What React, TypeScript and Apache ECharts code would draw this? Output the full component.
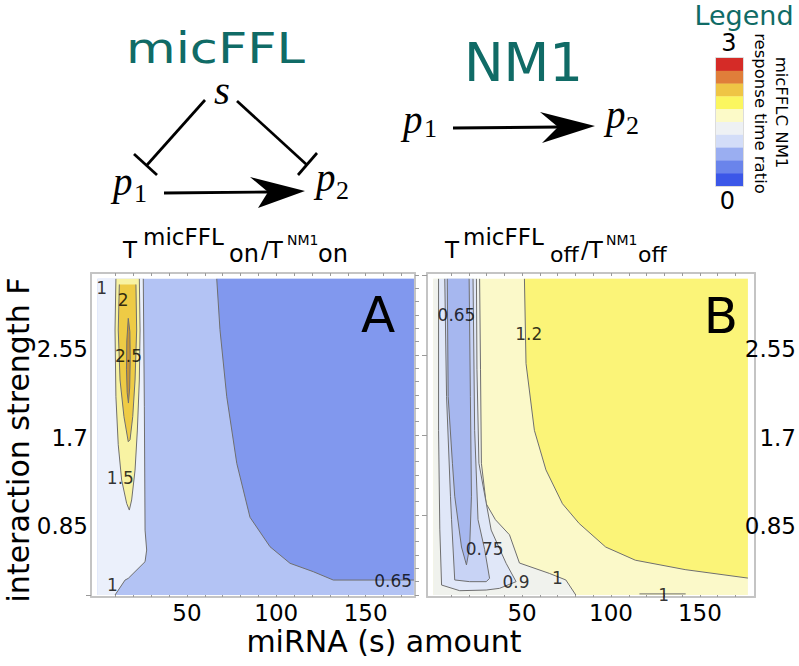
import React, { useEffect, useRef } from "react";
import * as echarts from "echarts";

// ---------- axis ticks / labels ----------
const X_TICK_LABELS = [50, 100, 150];
const X_MINOR_TICKS = [10, 20, 30, 40, 50, 60, 70, 80, 90, 100, 110, 120, 130, 140, 150, 160, 170];
const Y_TICK_LABELS = [0.85, 1.7, 2.55];
const Y_MINOR_TICKS = [0, 0.1417, 0.2833, 0.425, 0.5667, 0.7083, 0.85, 0.9917, 1.1333, 1.275, 1.4167, 1.5583, 1.7, 1.8417, 1.9833, 2.125, 2.2667, 2.4083, 2.55, 2.6917, 2.8333, 2.975, 3.1167, 3.2583, 3.4];
const Y_MAJOR_TICKS = [0.85, 1.7, 2.55, 3.4];

// plot range of the data (miRNA amount s, interaction strength F)
const S_MAX = 177;
const F_MAX = 3.36;

// ---------- panel A: T_on ratio contours (s, F) ----------
const A_C065 = [[66.7, 3.36], [68.5, 2.82], [72.3, 2.107], [77.9, 1.399], [85.3, 0.826], [96.5, 0.513], [107.7, 0.337], [120.7, 0.248], [131.9, 0.159], [177, 0.159]];
const A_C1 = [[25.6, 3.36], [26.2, 2.0], [26.6, 0.69], [27.5, 0.478], [26.6, 0.354], [17.2, 0.177], [15.4, 0.159], [9.8, 0]];
const A_C15 = [[10.3, 3.36], [9.8, 2.816], [10.3, 2.107], [11.6, 1.597], [13.5, 1.222], [16.3, 0.974], [17.8, 0.903], [19.1, 1.01], [21, 1.328], [22.3, 1.753], [23.4, 2.285], [23.8, 2.816], [23.4, 3.36]];
const A_C2 = [[12.2, 3.3], [11.6, 2.816], [12.6, 2.285], [14.8, 1.895], [17.2, 1.629], [18.2, 1.65], [19.7, 1.895], [21, 2.285], [21.9, 2.816], [21.5, 3.3]];
const A_C25 = [[17.2, 2.94], [16.4, 2.7], [16.2, 2.4], [16.6, 2.15], [17.3, 2.04], [18, 2.2], [18.3, 2.5], [18.1, 2.8], [17.2, 2.94]];
const A_LABELS: [number, number, string][] = [[2.3, 3.26, "1"], [14.3, 3.14, "2"], [17.3, 2.54, "2.5"], [12.8, 1.24, "1.5"], [8.3, 0.11, "1"], [165.4, 0.152, "0.65"]];

// ---------- panel B: T_off ratio contours (s, F) ----------
const B_C12 = [[51.3, 3.36], [52.2, 2.46], [56.9, 1.75], [63.4, 1.33], [72.7, 0.97], [82.1, 0.76], [97, 0.51], [113.7, 0.37], [141.7, 0.27], [177, 0.18]];
const B_C1 = [[26.1, 3.36], [26.6, 2.4], [27.1, 1.4], [29.8, 0.97], [35, 0.8], [42.9, 0.64], [48.5, 0.34], [65.3, 0.23], [74.6, 0.16], [80.2, 0]];
const B_C09 = [[3.0, 3.36], [3.0, 1.75], [3.7, 0.7], [4.7, 0.106], [14.9, 0.046], [29.8, 0.053], [37.3, 0.071], [46.6, 0.142], [41, 0.337], [32.6, 0.69], [25.7, 1.4], [24.6, 2.4], [24.3, 3.36]];
const B_C075 = [[6.5, 3.36], [7.5, 2.11], [9.7, 1.05], [10.3, 0.8], [12.1, 0.16], [20.5, 0.142], [29.8, 0.142], [31.7, 0.177], [28.9, 0.486], [25.2, 0.8], [23.3, 1.75], [22.4, 3.36]];
const B_C065 = [[7.9, 3.36], [8.4, 2.11], [10.8, 1.4], [12.1, 1.05], [15.9, 0.51], [18.7, 0.32], [20.5, 0.51], [21.5, 1.05], [20.9, 2.11], [20.2, 3.36]];
const B_C1_SMALL = [[116, 0.012], [142, 0.012]];
const B_LABELS: [number, number, string][] = [[13.1, 2.976, "0.65"], [53.7, 2.774, "1.2"], [28.9, 0.486, "0.75"], [46.6, 0.142, "0.9"], [69.9, 0.177, "1"], [129.6, 0.0, "1"]];

// ---------- legend colour bar (top = 3, bottom = 0) ----------
const LEGEND_COLORS = ["#d52b27", "#e07e3a", "#efc545", "#fbf65f", "#fcfac8", "#eef1f4", "#d3ddf8", "#9aaef1", "#6a84eb", "#3b57e8"];

const FONT = "'DejaVu Sans', sans-serif";
const SERIF = "'Liberation Serif', 'Times New Roman', serif";
const TEAL = "#106b66";
const LINE = "#6f6f6f";
const FRAME = "#c4c4c4";

type Region = { poly?: number[][]; fill?: string; line?: number[][] };
const BOX = [[0, 0], [S_MAX, 0], [S_MAX, F_MAX], [0, F_MAX]];

const REGIONS_A: Region[] = [
  { poly: BOX, fill: "#b3c3f4" },
  { poly: [...A_C065, [S_MAX, F_MAX]], fill: "#8198ee", line: A_C065 },
  { poly: [...A_C1, [0, 0], [0, F_MAX]], fill: "#ebf0fb", line: A_C1 },
  { poly: A_C15, fill: "#f8f3a3", line: A_C15 },
  { poly: A_C2, fill: "#eecb45", line: A_C2 },
  { poly: A_C25, fill: "#c99433", line: A_C25 },
];
const REGIONS_B: Region[] = [
  { poly: BOX, fill: "#fbf9c9" },
  { poly: [...B_C12, [S_MAX, F_MAX]], fill: "#fbf478", line: B_C12 },
  { poly: [...B_C1, [0, 0], [0, F_MAX]], fill: "#f0f2ed", line: B_C1 },
  { poly: B_C09, fill: "#e0e7f8", line: B_C09 },
  { poly: B_C075, fill: "#c8d3f5", line: B_C075 },
  { poly: B_C065, fill: "#a6b7ef", line: B_C065 },
  { line: B_C1_SMALL },
];

function contourSeries(regions: Region[], xi: number, yi: number) {
  return {
    type: "custom",
    xAxisIndex: xi,
    yAxisIndex: yi,
    silent: true,
    data: regions.map((r, i) => [i, 0]),
    encode: { x: 0, y: 1 },
    renderItem: (params: any, api: any) => {
      const r = regions[params.dataIndex];
      const children: any[] = [];
      if (r.poly && r.fill) {
        children.push({ type: "polygon", shape: { points: r.poly.map((p) => api.coord(p)) }, style: { fill: r.fill } });
      }
      if (r.line) {
        children.push({ type: "polyline", shape: { points: r.line.map((p) => api.coord(p)) }, style: { stroke: LINE, lineWidth: 1, fill: null } });
      }
      return { type: "group", children };
    },
  };
}

function labelSeries(labels: [number, number, string][], xi: number, yi: number) {
  return {
    type: "scatter",
    xAxisIndex: xi,
    yAxisIndex: yi,
    silent: true,
    symbolSize: 1,
    itemStyle: { color: "rgba(0,0,0,0)" },
    z: 5,
    data: labels.map(([x, y, t]) => ({ value: [x, y], name: t })),
    label: { show: true, position: "inside", formatter: "{b}", fontSize: 17, color: "#000", fontFamily: FONT },
  };
}

function txt(text: string, x: number, y: number, fs: number, extra: any = {}) {
  const { align = "center", fill = "#000", family = FONT, style = "normal", ...rest } = extra;
  return {
    type: "text",
    x,
    y,
    z: 100,
    ...rest,
    style: {
      text,
      fontSize: fs,
      fontFamily: family,
      fontStyle: style,
      fill,
      textAlign: align,
      align,
      textVerticalAlign: "middle",
      verticalAlign: "middle",
    },
  };
}

function seg(x1: number, y1: number, x2: number, y2: number, w = 2.7) {
  return { type: "line", z: 100, shape: { x1, y1, x2, y2 }, style: { stroke: "#000", lineWidth: w } };
}

function head(points: number[][]) {
  return { type: "polygon", z: 100, shape: { points }, style: { fill: "#000" } };
}

function buildGraphic() {
  const g: any[] = [];
  // network titles
  g.push(txt("micFFL", 215.5, 48.5, 42, { fill: TEAL, scaleX: 1.215 }));
  g.push(txt("NM1", 523.5, 62, 53, { fill: TEAL }));
  // micFFL diagram
  g.push(txt("s", 222, 89.5, 41, { family: SERIF, style: "italic" }));
  g.push(txt("p", 113, 181.2, 39, { family: SERIF, style: "italic", align: "left" }));
  g.push(txt("1", 134, 193.2, 26, { family: SERIF, align: "left" }));
  g.push(txt("p", 316, 177.2, 39, { family: SERIF, style: "italic", align: "left" }));
  g.push(txt("2", 336, 190.2, 26, { family: SERIF, align: "left" }));
  g.push(seg(205, 100, 147, 165));
  g.push(seg(134, 154, 157, 175));
  g.push(seg(237, 101, 307, 165));
  g.push(seg(298, 175, 317, 153));
  g.push(seg(164, 193, 270, 192, 2.9));
  g.push(head([[305, 191], [250, 177], [268, 192], [258, 208]]));
  // NM1 diagram
  g.push(txt("p", 403, 119.2, 39, { family: SERIF, style: "italic", align: "left" }));
  g.push(txt("1", 424, 128.2, 26, { family: SERIF, align: "left" }));
  g.push(txt("p", 606, 114.2, 39, { family: SERIF, style: "italic", align: "left" }));
  g.push(txt("2", 626, 125.2, 26, { family: SERIF, align: "left" }));
  g.push(seg(453, 128, 560, 127, 2.9));
  g.push(head([[595, 126], [540, 112], [558, 127], [542, 143]]));
  // legend
  g.push(txt("Legend", 744, 15, 27, { fill: TEAL }));
  g.push(txt("3", 729, 42.5, 24));
  g.push(txt("0", 727.5, 200.5, 24));
  const top = 58, h = 12.8;
  LEGEND_COLORS.forEach((c, i) => {
    g.push({ type: "rect", z: 100, shape: { x: 716, y: top + i * h, width: 27, height: h + 0.3 }, style: { fill: c } });
  });
  g.push({ type: "rect", z: 101, shape: { x: 715.5, y: top - 0.5, width: 28, height: h * 10 + 1 }, style: { fill: null, stroke: "#dcdcdc", lineWidth: 1 } });
  g.push(txt("response time ratio", 760, 113.5, 16.5, { rotation: -Math.PI / 2 }));
  g.push(txt("micFFLC NM1", 781, 112.5, 16.5, { rotation: -Math.PI / 2 }));
  // panel titles
  const title = (x0: number, sub: string, subFs: number, xs: number[]) => {
    g.push(txt("T", x0, 250, 23, { align: "left" }));
    g.push(txt("micFFL", xs[0], 237, 23, { align: "left" }));
    g.push(txt(sub, xs[1], 254, subFs, { align: "left" }));
    g.push(txt("/T", xs[2], 250, 23, { align: "left" }));
    g.push(txt("NM1", xs[3], 240.2, 14, { align: "left" }));
    g.push(txt(sub, xs[4], 254, subFs, { align: "left" }));
  };
  title(123, "on", 24, [143, 229, 261, 287, 318]);
  title(445, "off", 22, [463, 550, 581, 606, 638]);
  // panel letters
  g.push(txt("A", 378, 315, 50));
  g.push(txt("B", 721, 316, 50));
  // axis titles
  g.push(txt("interaction strength F", 18, 440, 30, { rotation: Math.PI / 2 }));
  g.push(txt("miRNA (s) amount", 384, 641, 30));
  return g;
}

const frameLine = { show: true, onZero: false, lineStyle: { color: FRAME, width: 2 } };
const tickStyle = { color: "#9a9a9a", width: 1 };

function buildOption(): any {
  const xAxisFor = (grid: number, min: number, max: number, pos: "bottom" | "top") => ({
    type: "value",
    gridIndex: grid,
    position: pos,
    min,
    max,
    axisLine: frameLine,
    splitLine: { show: false },
    axisTick: { show: true, inside: true, length: 3, customValues: X_MINOR_TICKS, lineStyle: tickStyle },
    axisLabel: pos === "bottom"
      ? { show: true, customValues: X_TICK_LABELS, fontSize: 23, margin: 4, color: "#000", fontFamily: FONT }
      : { show: false },
  });
  const yFrame = (grid: number, pos: "left" | "right", ticks: number[] | null, len: number) => ({
    type: "value",
    gridIndex: grid,
    position: pos,
    min: -0.021,
    max: 3.422,
    axisLine: frameLine,
    splitLine: { show: false },
    axisTick: ticks ? { show: true, inside: false, length: len, customValues: ticks, lineStyle: tickStyle } : { show: false },
    axisLabel: { show: false },
  });
  const yLabels = (grid: number, pos: "left" | "right") => ({
    type: "value",
    gridIndex: grid,
    position: pos,
    min: 0.17,
    max: 3.28,
    z: 10,
    axisLine: { show: false },
    axisTick: { show: false },
    splitLine: { show: false },
    axisLabel: {
      show: true,
      customValues: Y_TICK_LABELS,
      fontSize: 23,
      color: "#000",
      fontFamily: FONT,
      margin: pos === "left" ? 3 : 41,
      align: "right",
    },
  });
  return {
    animation: false,
    backgroundColor: "#ffffff",
    grid: [
      { left: 91, top: 273, width: 324, height: 324 },
      { left: 427, top: 273, width: 330, height: 324 },
    ],
    xAxis: [
      xAxisFor(0, -3.64, 177.6, "bottom"),
      xAxisFor(0, -3.64, 177.6, "top"),
      xAxisFor(1, -3.5, 181, "bottom"),
      xAxisFor(1, -3.5, 181, "top"),
    ],
    yAxis: [
      yFrame(0, "left", [0], 5),
      yFrame(0, "right", Y_MINOR_TICKS, 4),
      yLabels(0, "left"),
      yFrame(1, "left", Y_MAJOR_TICKS, 5),
      yFrame(1, "right", null, 0),
      yLabels(1, "right"),
    ],
    series: [
      contourSeries(REGIONS_A, 0, 0),
      contourSeries(REGIONS_B, 2, 3),
      labelSeries(A_LABELS, 0, 0),
      labelSeries(B_LABELS, 2, 3),
    ],
    graphic: { elements: buildGraphic() },
  };
}

export default function App() {
  const ref = useRef<HTMLDivElement>(null);
  useEffect(() => {
    if (!ref.current) return;
    const chart = echarts.init(ref.current, null, { renderer: "svg" });
    chart.setOption(buildOption());
    return () => chart.dispose();
  }, []);
  return <div ref={ref} style={{ position: "absolute", left: 0, top: 0, width: 799, height: 666 }} />;
}
